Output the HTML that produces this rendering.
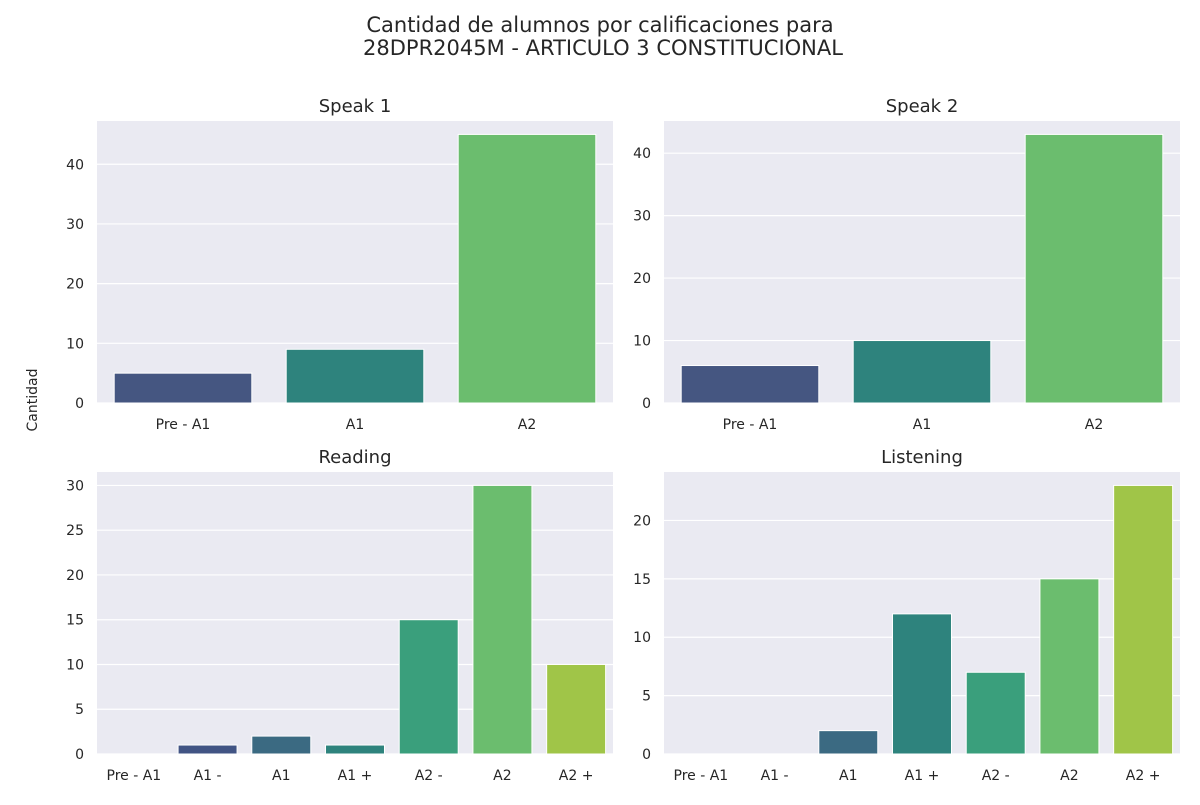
<!DOCTYPE html>
<html><head><meta charset="utf-8"><style>
body{margin:0;background:#fff;font-family:"Liberation Sans","DejaVu Sans",sans-serif;}
text{font-family:"DejaVu Sans","Liberation Sans",sans-serif;fill:#262626;}
</style></head><body>
<svg id="chart" width="1200" height="800">
<text x="600" y="32" text-anchor="middle" font-size="21">Cantidad de alumnos por calificaciones para</text>
<text x="603" y="55" text-anchor="middle" font-size="21">28DPR2045M - ARTICULO 3 CONSTITUCIONAL</text>
<text transform="translate(37,400) rotate(-90)" text-anchor="middle" font-size="14">Cantidad</text>
</svg>
<script>
const cats3 = ["Pre - A1","A1","A2"];
const cats7 = ["Pre - A1","A1 -","A1","A1 +","A2 -","A2","A2 +"];
const speak1 = [5,9,45];
const speak2 = [6,10,43];
const reading = [0,1,2,1,15,30,10];
const listening = [0,0,2,12,7,15,23];
const ticks1 = [0,10,20,30,40];
const ticks2 = [0,10,20,30,40];
const ticks3 = [0,5,10,15,20,25,30];
const ticks4 = [0,5,10,15,20];
const titles = ["Speak 1","Speak 2","Reading","Listening"];
const col3 = ["#455681","#2e837d","#6bbd6e"];
const col7 = ["#46327e","#415484","#3b6a82","#2e837d","#3a9f7c","#6bbd6e","#a0c548"];
const NS="http://www.w3.org/2000/svg";
const svg=document.getElementById('chart');
function mk(tag,attrs,parent){const e=document.createElementNS(NS,tag);for(const k in attrs)e.setAttribute(k,attrs[k]);(parent||svg).appendChild(e);return e;}
const panels=[
 {x:97,y:121,cats:cats3,vals:speak1,ticks:ticks1,cols:col3,slug:"speak-1"},
 {x:664,y:121,cats:cats3,vals:speak2,ticks:ticks2,cols:col3,slug:"speak-2"},
 {x:97,y:472,cats:cats7,vals:reading,ticks:ticks3,cols:col7,slug:"reading"},
 {x:664,y:472,cats:cats7,vals:listening,ticks:ticks4,cols:col7,slug:"listening"}];
const W=516,H=282;
panels.forEach((p,pi)=>{
 const g=mk('g',{});
 
 
 const bg=mk('rect',{x:p.x,y:p.y,width:W,height:H,fill:'#eaeaf2'},g);
 
 
 const ymax=Math.max(...p.vals)*1.05;
 const ys=v=>p.y+H-v/ymax*H;
 const bw=W/p.cats.length;
 const xs=i=>p.x+bw*(i+0.5);
 p.ticks.forEach(t=>{
  mk('line',{x1:p.x,x2:p.x+W,y1:ys(t),y2:ys(t),stroke:'#fff','stroke-width':1.2},g);
  const tl=mk('text',{x:p.x-13,y:ys(t)+5,'text-anchor':'end','font-size':14},g);
  tl.textContent=t;
  
  
 });
 p.cats.forEach((c,i)=>{
  const b=mk('rect',{x:xs(i)-bw*0.4,y:ys(p.vals[i]),width:bw*0.8,height:ys(0)-ys(p.vals[i]),fill:p.cols[i],stroke:'#fff','stroke-width':1},g);
  
  
  const xl=mk('text',{x:xs(i),y:p.y+H+26,'text-anchor':'middle','font-size':14},g);
  xl.textContent=c;
  
  
 });
 const tt=mk('text',{x:p.x+W/2,y:p.y-9,'text-anchor':'middle','font-size':18},g);
 tt.textContent=titles[pi];
 
 
});
</script>
</body></html>
